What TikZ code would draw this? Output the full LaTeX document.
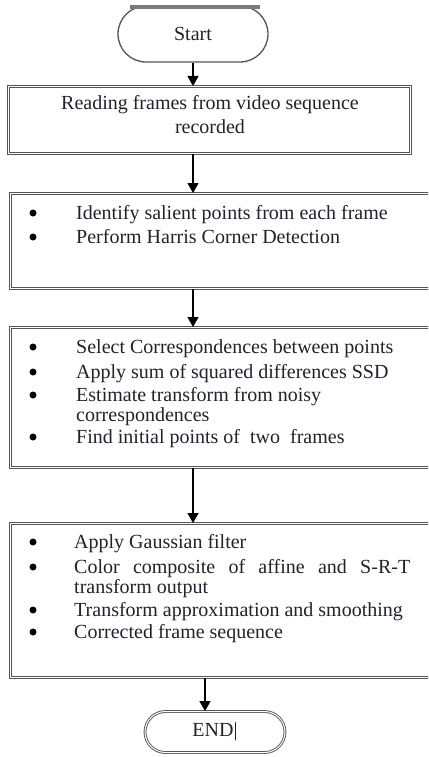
\documentclass[tikz,border=0pt]{standalone}
\usepackage{fontspec}
\setmainfont{Liberation Serif}
\usepackage{tikz}
\usetikzlibrary{arrows.meta,positioning,shapes.misc}
\definecolor{ink}{HTML}{22222F}
\definecolor{edge}{HTML}{555555}
\definecolor{capbar}{HTML}{7A7A7A}
\tikzset{
  >={Triangle[length=10pt,width=11pt]},
  stepbox/.style={draw=edge,line width=.9pt,double=white,double distance=1.1pt,fill=white,inner sep=0pt},
  terminal/.style={rounded rectangle,draw=edge,line width=1.3pt,fill=white,inner sep=0pt,font=\fontsize{20}{24}\selectfont,text=ink},
  flow/.style={->,line width=1.3pt,color=black},
  txt/.style={font=\fontsize{20}{24}\selectfont,text=ink,inner sep=0pt},
  item/.style={txt,anchor=base west},
  dot/.style={circle,fill=black,minimum size=7pt,inner sep=0pt,yshift=6pt},
}

\begin{document}
\begin{tikzpicture}[x=1pt,y=-1pt]
  \path[use as bounding box,clip] (0,0) rectangle (428,757);
  \fill[white] (0,0) rectangle (428,757);

  \node[terminal,minimum width=150pt,minimum height=56pt] (start) at (193,34) {Start};
  \fill[capbar] (130,5) rectangle (260,9);

  \node[stepbox,minimum width=402pt,minimum height=67pt,anchor=north west] (read) at (8,86) {};
  \node[txt,align=center,font=\fontsize{20}{24}\selectfont] (read-text) at (210,115)
    {Reading frames from video sequence\\recorded};

  \node[stepbox,minimum width=440pt,minimum height=95pt,anchor=north west] (detect) at (10,193) {};
  \node[dot] (detect-b1) at (33,219) {};
  \node[item] (detect-1) at (76,219) {Identify salient points from each frame};
  \node[dot] (detect-b2) at (33,243) {};
  \node[item] (detect-2) at (76,243) {Perform Harris Corner Detection};

  \node[stepbox,minimum width=440pt,minimum height=140pt,anchor=north west] (match) at (10,327) {};
  \node[dot] (match-b1) at (33,353) {};
  \node[item] (match-1) at (76,353) {Select Correspondences between points};
  \node[dot] (match-b2) at (33,378) {};
  \node[item] (match-2) at (76,378) {Apply sum of squared differences SSD};
  \node[dot] (match-b3) at (33,401) {};
  \node[item] (match-3) at (76,401) {Estimate transform from noisy};
  \node[item] (match-3b) at (76,421) {correspondences};
  \node[dot] (match-b4) at (33,443) {};
  \node[item] (match-4) at (76,443) {Find initial points of\ \ two\ \ frames};

  \node[stepbox,minimum width=440pt,minimum height=154pt,anchor=north west] (smooth) at (10,523) {};
  \node[dot] (smooth-b1) at (33,548) {};
  \node[item] (smooth-1) at (74,548) {Apply Gaussian filter};
  \node[dot] (smooth-b2) at (33,573) {};
  \node[item] (smooth-2) at (74,573) {\makebox[336pt][s]{Color composite of affine and S-R-T}};
  \node[item] (smooth-2b) at (74,593) {transform output};
  \node[dot] (smooth-b3) at (33,616) {};
  \node[item] (smooth-3) at (74,616) {Transform approximation and smoothing};
  \node[dot] (smooth-b4) at (33,638) {};
  \node[item] (smooth-4) at (74,638) {Corrected frame sequence};

  \node[terminal,minimum width=140pt,minimum height=41pt,double=white,double distance=1pt,line width=.9pt] (finish) at (215,732) {END|};

  \draw[flow] (start.south) -- (start.south |- read.north);
  \draw[flow] (read.south -| start) -- (detect.north -| start);
  \draw[flow] (detect.south -| start) -- (match.north -| start);
  \draw[flow] (match.south -| start) -- (smooth.north -| start);
  \draw[flow] ([xshift=-10pt]finish.north |- smooth.south) -- ([xshift=-10pt]finish.north);
\end{tikzpicture}
\end{document}
